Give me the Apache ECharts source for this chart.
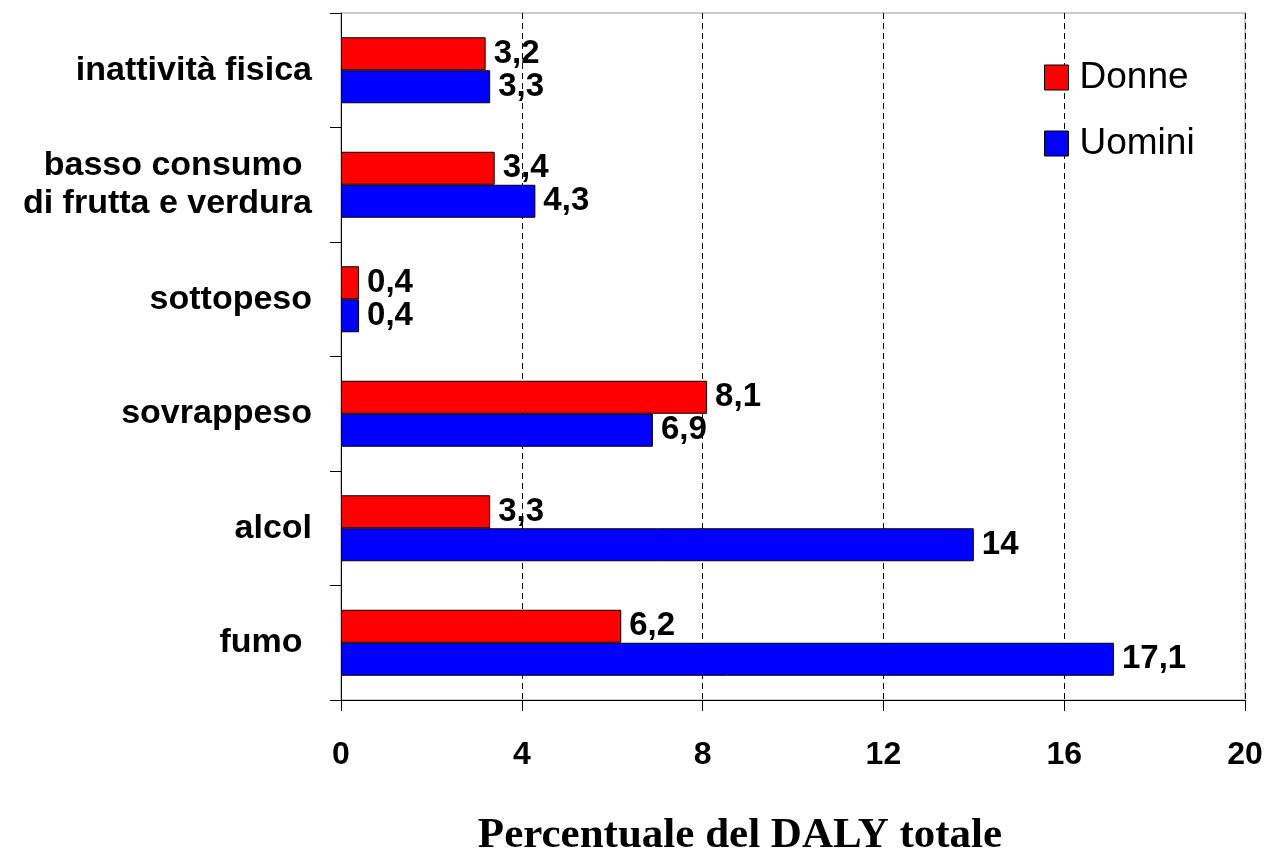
<!DOCTYPE html>
<html>
<head>
<meta charset="utf-8">
<script src="https://cdn.jsdelivr.net/npm/echarts@6/dist/echarts.min.js"></script>
<style>html,body{margin:0;padding:0;background:#fff;}#c{width:1269px;height:856px;}</style>
</head>
<body>
<div id="c"></div>
<script>
const categories = ['fumo ', 'alcol', 'sovrappeso', 'sottopeso', 'basso consumo \ndi frutta e verdura', 'inattività fisica'];
const donne = [6.2, 3.3, 8.1, 0.4, 3.4, 3.2];
const uomini = [17.1, 14, 6.9, 0.4, 4.3, 3.3];
const xTicks = [0, 4, 8, 12, 16, 20];

const chart = echarts.init(document.getElementById('c'));
const fmt = p => String(p.value).replace('.', ',');
const labelStyle = {show: true, position: 'right', distance: 8, formatter: fmt,
  fontFamily: 'Liberation Sans', fontWeight: 'bold', fontSize: 33, color: '#000'};
chart.setOption({
  animation: false,
  title: {
    text: 'Percentuale del DALY totale', left: 740, top: 814, textAlign: 'center', padding: 0,
    textStyle: {fontFamily: 'Liberation Serif', fontWeight: 'bold', fontSize: 43, color: '#000'}
  },
  grid: {left: 341, right: 24, top: 13, bottom: 156, show: true, borderColor: '#999', borderWidth: 1},
  legend: {
    data: ['Donne', 'Uomini'], orient: 'vertical', left: 1044, top: 57, itemGap: 25, padding: 0,
    itemWidth: 24, itemHeight: 25, icon: 'rect',
    itemStyle: {borderColor: '#000', borderWidth: 1},
    textStyle: {fontFamily: 'Liberation Sans', fontSize: 37, lineHeight: 37, color: '#000', padding: [4,0,0,6]}
  },
  xAxis: {
    type: 'value', min: xTicks[0], max: xTicks[xTicks.length-1], interval: 4,
    axisLine: {show: true, lineStyle: {color: '#000', width: 1}},
    axisTick: {show: true, length: 11, lineStyle: {color: '#000'}},
    splitLine: {show: true, lineStyle: {color: '#000', type: [6, 4], width: 1}},
    axisLabel: {margin: 39, fontFamily: 'Liberation Sans', fontWeight: 'bold', fontSize: 32, color: '#000'}
  },
  yAxis: {
    type: 'category', data: categories,
    axisLine: {show: true, lineStyle: {color: '#000', width: 1}},
    axisTick: {show: true, length: 11, lineStyle: {color: '#000'}},
    axisLabel: {margin: 29, fontFamily: 'Liberation Sans', fontWeight: 'bold', fontSize: 34, color: '#000', align: 'right', lineHeight: 38}
  },
  series: [
    {name: 'Donne', type: 'bar', data: donne, barWidth: 33, barGap: '0%',
     itemStyle: {color: '#ff0000', borderColor: '#000', borderWidth: 1}, label: labelStyle},
    {name: 'Uomini', type: 'bar', data: uomini, barWidth: 33, barGap: '0%',
     itemStyle: {color: '#0000ff', borderColor: '#000', borderWidth: 1}, label: labelStyle}
  ]
});
</script>
</body>
</html>
